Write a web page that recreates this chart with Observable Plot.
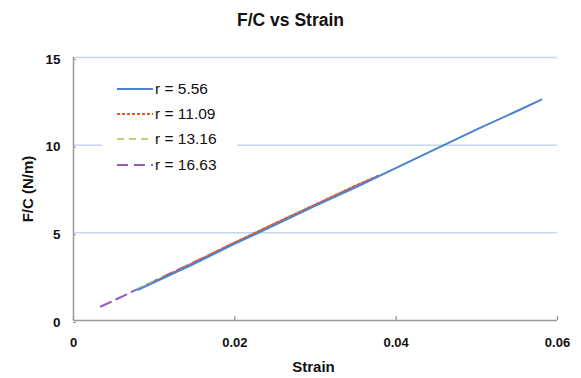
<!DOCTYPE html>
<html><head><meta charset="utf-8">
<script src="https://cdn.jsdelivr.net/npm/d3@7"></script>
<script src="https://cdn.jsdelivr.net/npm/@observablehq/plot@0.6"></script>
<style>
body{margin:0;background:#fff;font-family:"Liberation Sans",Arial,sans-serif;}
#wrap{position:relative;width:581px;height:378px;}
#title{height:38px;line-height:40px;text-align:center;font-weight:bold;font-size:17.5px;color:#111;}
#legend{position:absolute;left:102px;top:74px;width:135px;background:#fff;padding:2px 0;}
.row{display:flex;align-items:center;height:25.3px;font-size:15.5px;color:#111;}
.row svg{margin-left:15px;margin-right:2px;}
</style></head>
<body><div id="wrap"><div id="title">F/C vs Strain</div><div id="chart"></div><div id="legend"></div></div>
<script>
const seriesNames = ["r = 5.56", "r = 11.09", "r = 13.16", "r = 16.63"];
const colors = ["#4a84cc", "#e8582c", "#b8d46c", "#8c5cc4"];
const dashes = ["none", "3,2", "7,5", "11,6"];
const strain556 = [0.008, 0.015, 0.02, 0.025, 0.03, 0.035, 0.04, 0.045, 0.05, 0.055, 0.058];
const fc556     = [1.75, 3.25, 4.38, 5.45, 6.55, 7.6, 8.7, 9.8, 10.9, 11.95, 12.6];
const strain1109 = [0.010, 0.015, 0.02, 0.025, 0.03, 0.035, 0.038];
const fc1109     = [2.2, 3.32, 4.45, 5.55, 6.62, 7.7, 8.3];
const strain1316 = [0.008, 0.012, 0.016, 0.02, 0.024, 0.028, 0.031];
const fc1316     = [1.8, 2.65, 3.52, 4.4, 5.3, 6.15, 6.8];
const strain1663 = [0.0034, 0.006, 0.01, 0.014, 0.018, 0.022, 0.025];
const fc1663     = [0.8, 1.36, 2.25, 3.12, 4.0, 4.86, 5.5];
const xTicks = [0, 0.02, 0.04, 0.06];
const yTicks = [0, 5, 10, 15];

const strains = [strain556, strain1109, strain1316, strain1663];
const fcs = [fc556, fc1109, fc1316, fc1663];
const series = seriesNames.map((name, i) => strains[i].map((s, j) => ({name, strain: s, fc: fcs[i][j]})));

const lineMarks = series.slice().reverse().map((d, k) => {
  const i = 3 - k;
  return Plot.line(d, {x: "strain", y: "fc", stroke: colors[i], strokeWidth: 2, strokeDasharray: dashes[i] === "none" ? null : dashes[i]});
});

const chart = Plot.plot({
  width: 581, height: 340,
  marginLeft: 73, marginRight: 24, marginTop: 19, marginBottom: 58,
  style: {fontFamily: "Liberation Sans, Arial, sans-serif", fontSize: "13px", fontWeight: "bold", color: "#111", background: "#fff"},
  x: {domain: [0, 0.06]},
  y: {domain: [0, 15]},
  marks: [
    Plot.ruleY(yTicks.filter(v => v > 0), {stroke: "#c6d6ee", strokeWidth: 1.5}),
    Plot.axisX(xTicks, {tickFormat: d => d === 0 ? "0" : d3.format(".2f")(d), tickSize: -4, tickPadding: 21, stroke: "#999", strokeWidth: 1.3, label: null, fontWeight: "bold", fontSize: 13}),
    Plot.axisY(yTicks, {tickSize: -3, tickPadding: 16, dy: 2, stroke: "#999", label: null, fontWeight: "bold", fontSize: 13.5}),
    Plot.ruleX([0], {stroke: "#999", strokeWidth: 1.5}),
    Plot.ruleY([0], {stroke: "#999", strokeWidth: 1.5}),
    ...lineMarks,
    Plot.text(["Strain"], {frameAnchor: "bottom", dy: 51, dx: -2, fontSize: 15, fontWeight: "bold"}),
    Plot.text(["F/C (N/m)"], {frameAnchor: "left", textAnchor: "middle", dx: -45, dy: 0, rotate: -90, fontSize: 15, fontWeight: "bold"})
  ]
});
document.getElementById("chart").appendChild(chart);

const leg = document.getElementById("legend");
seriesNames.forEach((name, i) => {
  const row = document.createElement("div");
  row.className = "row";
  row.innerHTML = `<svg width="36" height="6"><line x1="0" y1="3" x2="36" y2="3" stroke="${colors[i]}" stroke-width="2" ${dashes[i] === "none" ? "" : `stroke-dasharray="${dashes[i]}"`}/></svg><span>${name}</span>`;
  leg.appendChild(row);
});
</script></body></html>
